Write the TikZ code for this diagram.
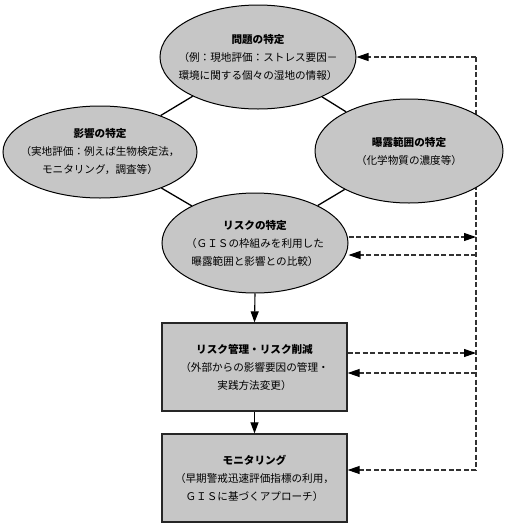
\documentclass[tikz,border=0pt]{standalone}
\usepackage{fontspec}
\setmainfont{Noto Sans CJK JP}
\usetikzlibrary{shapes.geometric,arrows.meta}
\pgfdeclarelayer{bg}
\pgfsetlayers{bg,main}
\definecolor{fillgray}{RGB}{198,198,198}
\definecolor{dashgray}{RGB}{50,50,50}
\begin{document}
\begin{tikzpicture}[x=1pt,y=-1pt,
  ell/.style={ellipse, draw=black, line width=1pt, fill=fillgray, inner sep=0pt},
  boxnode/.style={rectangle, draw=black!85, line width=1.3pt, fill=fillgray, inner sep=0pt,
    minimum width=185pt, minimum height=88pt},
  txt/.style={align=center, inner sep=0pt, font=\fontsize{10.6}{18}\selectfont},
  link/.style={draw=black, line width=1.3pt},
  fb/.style={draw=dashgray, line width=1.1pt, dash pattern=on 5pt off 2.5pt},
  tip/.style={-{Triangle[length=12pt,width=8pt,color=black,fill=black]}},
  solidarrow/.style={draw=black, line width=1.1pt, -{Triangle[length=11pt,width=8pt]}}
]
\useasboundingbox (0,0) rectangle (509,528);

% ellipses
\node[ell, minimum width=196pt, minimum height=104pt] (top) at (258,57) {};
\node[ell, minimum width=194pt, minimum height=92pt] (left) at (100,152) {};
\node[ell, minimum width=188pt, minimum height=104pt] (right) at (409,151) {};
\node[ell, minimum width=186pt, minimum height=100pt] (risk) at (255,243) {};

\node[txt] (ttop) at (top) {\textbf{問題の特定}\\（例：現地評価：ストレス要因－\\環境に関する個々の湿地の情報）};
\node[txt] (tleft) at (left) {\textbf{影響の特定}\\（実地評価：例えば生物検定法，\\モニタリング，調査等）};
\node[txt] (tright) at (right) {\textbf{曝露範囲の特定}\\（化学物質の濃度等）};
\node[txt] (trisk) at (risk) {\textbf{リスクの特定}\\（ＧＩＳの枠組みを利用した\\曝露範囲と影響との比較）};

% boxes
\node[boxnode] (b1) at (254.5,367) {};
\node[boxnode] (b2) at (254.5,478) {};
\node[txt] (tb1) at (b1) {\textbf{リスク管理・リスク削減}\\（外部からの影響要因の管理・\\実践方法変更）};
\node[txt] (tb2) at (b2) {\textbf{モニタリング}\\（早期警戒迅速評価指標の利用，\\ＧＩＳに基づくアプローチ）};

% solid links between ellipses
\draw[link] (top) -- (left);
\draw[link] (top) -- (right);
\draw[link] (left) -- (risk);
\draw[link] (right) -- (risk);

% solid arrows
\draw[solidarrow] (risk.south) -- (b1.north);
\draw[solidarrow] (b1.south) -- (b2.north);

% feedback coordinates
\coordinate (vt) at (476,57);
\coordinate (r1) at (476,237);
\coordinate (r2) at (476,255);
\coordinate (m1) at (476,353);
\coordinate (m2) at (476,373);
\coordinate (vb) at (476,470);

\begin{pgfonlayer}{bg}
\draw[fb] (vt) -- (vb);
\end{pgfonlayer}
\draw[fb, tip] (vt) -- (top.east);
\draw[fb, tip] (risk.east |- r1) -- (r1);
\draw[fb, tip] (r2) -- (risk.east |- r2);
\draw[fb, tip] (b1.east |- m1) -- (m1);
\draw[fb, tip] (m2) -- (b1.east |- m2);
\draw[fb, tip] (vb) -- (b2.east |- vb);
\end{tikzpicture}
\end{document}
